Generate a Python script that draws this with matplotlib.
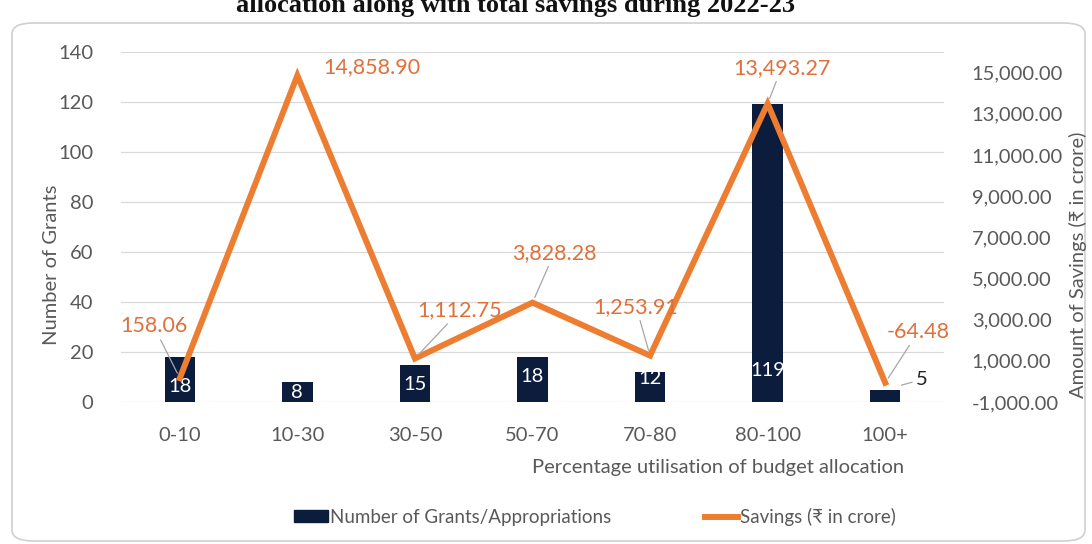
import numpy as np
import matplotlib.pyplot as plt
from matplotlib.patches import FancyBboxPatch, Patch
from matplotlib.lines import Line2D

plt.rcParams['font.family'] = ['Lato', 'DejaVu Sans']

# data
categories = ['0-10', '10-30', '30-50', '50-70', '70-80', '80-100', '100+']
grants = [18, 8, 15, 18, 12, 119, 5]
savings = [158.06, 14858.90, 1112.75, 3828.28, 1253.91, 13493.27, -64.48]
savings_labels = ['158.06', '14,858.90', '1,112.75', '3,828.28', '1,253.91', '13,493.27', '-64.48']

# label offsets in pixels (dx, dy) from each point
sav_offsets = [(-26, 52), (75, 8), (45, 48), (22, 50), (-14, 49), (14, 36), (33, 51)]
sav_leader = [True, False, True, True, True, True, True]
grant_offsets = [15, 10, 17, 25, 24, 32]

navy = '#0c1c3d'
orange = '#ed7d31'
lbl_orange = '#e0703a'
grey = '#595959'
grid_c = '#d9d9d9'

W, H = 1092, 544
fig = plt.figure(figsize=(W / 100, H / 100), dpi=100)

# rounded frame around the chart
frame = FancyBboxPatch((12 / W, 3 / H), 1073 / W, 518 / H,
                       boxstyle='round,pad=0,rounding_size=0.02',
                       transform=fig.transFigure, fc='white', ec='#d0d0d0', lw=1.2,
                       zorder=-10)
fig.patches.append(frame)

# title (cut off at top in the source)
fig.text(515 / W, 1 - 12 / H, 'allocation along with total savings during 2022-23',
         ha='center', va='baseline', fontsize=19, fontweight='bold',
         family='Liberation Serif', color='#111111')

ax = fig.add_axes([121 / W, 142 / H, 823 / W, 350 / H])
x = np.arange(len(categories))

ax.bar(x, grants, width=0.26, color=navy, zorder=2)
ax.set_ylim(0, 140)
ax.set_yticks(range(0, 141, 20))
ax.set_xlim(-0.5, len(categories) - 0.5)
ax.set_xticks(x)
ax.set_xticklabels(categories)
ax.grid(axis='y', color=grid_c, lw=0.9, zorder=0)
ax.set_axisbelow(True)
for s in ax.spines.values():
    s.set_visible(False)
ax.tick_params(axis='both', length=0, colors=grey, labelsize=14.5)
ax.tick_params(axis='y', pad=20)
ax.tick_params(axis='x', pad=18)

# bar labels
for i, v in enumerate(grants[:-1]):
    ax.annotate(str(v), (x[i], 0), xytext=(0, grant_offsets[i]), textcoords='offset pixels',
                ha='center', va='center', color='white', fontsize=14.5, zorder=5)
ax.annotate(str(grants[-1]), (x[-1], grants[-1]), xytext=(37, 10), textcoords='offset pixels',
            ha='center', va='center', color='#222222', fontsize=14.5,
            bbox=dict(fc='none', ec='none', pad=2),
            arrowprops=dict(arrowstyle='-', color='#a6a6a6', lw=0.9, shrinkA=1, shrinkB=12))

ax2 = ax.twinx()
ax2.plot(x, savings, color=orange, lw=4.3, solid_joinstyle='miter', zorder=3)
ax2.set_ylim(-1000, 16000)
ax2.set_yticks(range(-1000, 15001, 2000))
ax2.set_yticklabels([f'{t:,.2f}' for t in range(-1000, 15001, 2000)])
for s in ax2.spines.values():
    s.set_visible(False)
ax2.tick_params(axis='y', length=0, colors=grey, labelsize=14.5, pad=20)

for i, (v, t) in enumerate(zip(savings, savings_labels)):
    ap = None
    if sav_leader[i]:
        ap = dict(arrowstyle='-', color='#a6a6a6', lw=0.9, shrinkA=2, shrinkB=4)
    ax2.annotate(t, (x[i], v), xytext=sav_offsets[i], textcoords='offset pixels',
                 ha='center', va='center', color=lbl_orange, fontsize=15.5,
                 bbox=dict(fc='none', ec='none', pad=1), arrowprops=ap, zorder=6)

fig.text(52 / W, 1 - 265 / H, 'Number of Grants', rotation=90, ha='center', va='center',
         color=grey, fontsize=14.5)
fig.text(1078 / W, 1 - 265 / H, 'Amount of Savings (₹ in crore)', rotation=90,
         ha='center', va='center', color=grey, fontsize=14.5)
fig.text(718 / W, 1 - 467 / H, 'Percentage utilisation of budget allocation',
         ha='center', va='center', color=grey, fontsize=14.5)

handles = [Patch(fc=navy, ec=navy), Line2D([], [], color=orange, lw=4.3)]
fig.legend(handles, ['Number of Grants/Appropriations', 'Savings (₹ in crore)'],
           loc='center', bbox_to_anchor=(595 / W, 1 - 517 / H), ncol=2, frameon=False,
           fontsize=13.5, handlelength=1.8, handleheight=0.6, handletextpad=0.1,
           columnspacing=5, labelcolor=grey)

fig.savefig('out.png', dpi=100)
